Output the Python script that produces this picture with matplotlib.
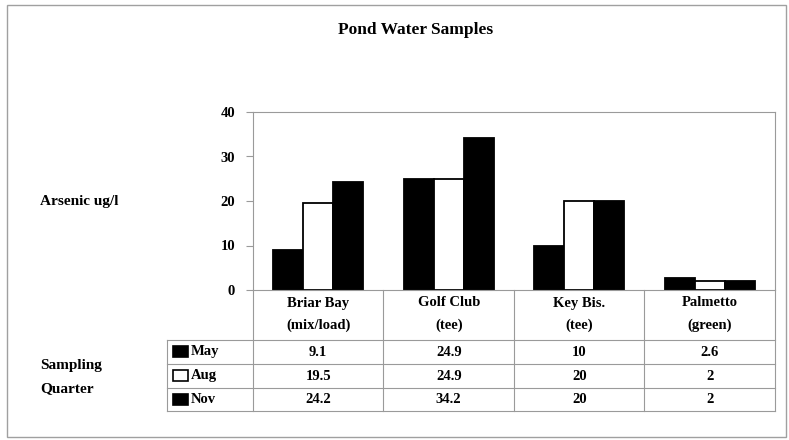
import numpy as np
import matplotlib.pyplot as plt
from matplotlib.patches import Rectangle

# arsenic readings (ug/l) per pond, by sampling quarter
sites = ["Briar Bay", "Golf Club", "Key Bis.", "Palmetto"]
site_notes = ["(mix/load)", "(tee)", "(tee)", "(green)"]
quarters = ["May", "Aug", "Nov"]
may = [9.1, 24.9, 10, 2.6]
aug = [19.5, 24.9, 20, 2]
nov = [24.2, 34.2, 20, 2]
yticks = [0, 10, 20, 30, 40]

series = [may, aug, nov]
fills = ["black", "white", "black"]
grid_c = "#9a9a9a"

plt.rcParams["font.family"] = ["Liberation Serif", "DejaVu Serif"]
plt.rcParams["font.weight"] = "bold"

W, H = 789, 440
fig = plt.figure(figsize=(W / 100, H / 100), dpi=100)

# pixel-space overlay for the frame, labels and data table
px = fig.add_axes([0, 0, 1, 1])
px.set_xlim(0, W)
px.set_ylim(H, 0)
px.axis("off")

L, R, T, B = 253, 775, 112, 290
ax = fig.add_axes([L / W, 1 - B / H, (R - L) / W, (B - T) / H])
ax.patch.set_alpha(0)

width = 0.23
x = np.arange(len(sites))
for k, vals in enumerate(series):
    ax.bar(x + (k - 1) * width, vals, width, color=fills[k],
           edgecolor="black", linewidth=1.3, label=quarters[k])

ax.set_xlim(-0.5, len(sites) - 0.5)
ax.set_ylim(0, 40)
ax.set_xticks([])
ax.set_yticks(yticks)
ax.set_yticklabels([str(t) for t in yticks], fontsize=10.5, fontweight="bold")
ax.tick_params(axis="y", direction="out", length=5, color=grid_c, pad=8)
for s in ax.spines.values():
    s.set_color(grid_c)
    s.set_linewidth(0.8)

# outer frame and title
px.add_patch(Rectangle((7, 5), 779, 432, fill=False, edgecolor="#a0a0a0", lw=1))
px.text(416, 30, "Pond Water Samples", ha="center", va="center",
        fontsize=12.5, fontweight="bold")
px.text(40, 201, "Arsenic ug/l", ha="left", va="center", fontsize=11, fontweight="bold")
px.text(40, 366, "Sampling", ha="left", va="center", fontsize=11, fontweight="bold")
px.text(40, 389, "Quarter", ha="left", va="center", fontsize=11, fontweight="bold")

# data table under the bars
col_w = (R - L) / len(sites)
row_y = [340, 364, 388, 411]
tab_left = 167
for i in range(len(sites) + 1):
    xs = L + i * col_w
    px.plot([xs, xs], [B, row_y[-1]], color=grid_c, lw=0.8)
px.plot([tab_left, tab_left], [row_y[0], row_y[-1]], color=grid_c, lw=0.8)
for yy in row_y:
    px.plot([tab_left, R], [yy, yy], color=grid_c, lw=0.8)

for i, (name, note) in enumerate(zip(sites, site_notes)):
    cx = L + (i + 0.5) * col_w
    px.text(cx, 303, name, ha="center", va="center", fontsize=10.5, fontweight="bold")
    px.text(cx, 325, note, ha="center", va="center", fontsize=10.5, fontweight="bold")

for k, (q, vals) in enumerate(zip(quarters, series)):
    cy = (row_y[k] + row_y[k + 1]) / 2
    px.add_patch(Rectangle((173, cy - 5.5), 15, 11, facecolor=fills[k],
                           edgecolor="black", lw=1.2))
    px.text(191, cy, q, ha="left", va="center", fontsize=10.5, fontweight="bold")
    for i, v in enumerate(vals):
        px.text(L + (i + 0.5) * col_w, cy, f"{v:g}", ha="center", va="center",
                fontsize=10.5, fontweight="bold")

fig.savefig("out.png", dpi=100)
